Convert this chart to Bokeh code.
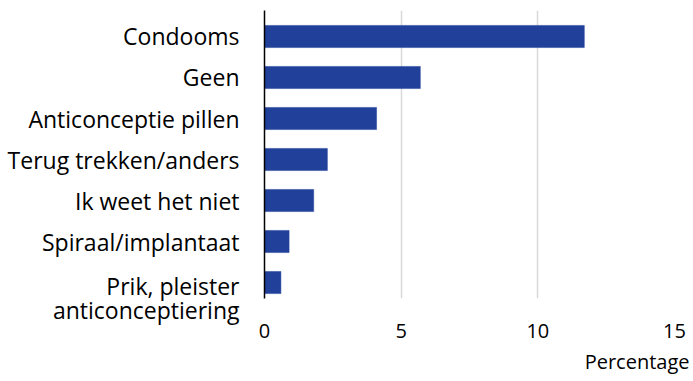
from bokeh.plotting import figure
from bokeh.models import Range1d, FixedTicker, Title, ColumnDataSource
from bokeh.embed import file_html
from bokeh.resources import INLINE

categories = ["Condooms", "Geen", "Anticonceptie pillen", "Terug trekken/anders",
              "Ik weet het niet", "Spiraal/implantaat", "Prik, pleister\nanticonceptiering"]
values = [11.7, 5.7, 4.1, 2.3, 1.8, 0.9, 0.6]
x_ticks = [0, 5, 10, 15]
x_label = "Percentage"

FONT = "Open Sans"
BAR = "#21409A"

idx = list(range(len(categories)))
src = ColumnDataSource(dict(y=idx, v=values, name=categories))

p = figure(width=693, height=381, output_backend="svg", toolbar_location=None,
           x_range=Range1d(0, 15), y_range=Range1d(6.39, -0.634),
           min_border_left=264, min_border_right=19, min_border_top=10, min_border_bottom=83)
p.outline_line_color = None

p.hbar(y="y", right="v", left=0, height=0.54, source=src, fill_color=BAR, line_color=BAR, line_width=0.5)

# x axis
p.xaxis.ticker = FixedTicker(ticks=x_ticks)
p.xaxis.axis_line_color = None
p.xaxis.major_tick_line_color = None
p.xaxis.minor_tick_line_color = None
p.xaxis.major_label_text_font = FONT
p.xaxis.major_label_text_font_size = "20px"
p.xaxis.major_label_text_color = "#000000"
p.xaxis.major_label_standoff = 19

# y axis: multi-line labels are nudged down so their first line sits by the bar
tick_pos = [i + (0.38 if "\n" in c else 0.0) for i, c in zip(idx, categories)]
p.yaxis.ticker = FixedTicker(ticks=tick_pos)
p.yaxis.major_label_overrides = {t: c for t, c in zip(tick_pos, categories)}
p.yaxis.axis_line_color = "#000000"
p.yaxis.axis_line_width = 1.5
p.yaxis.major_tick_line_color = None
p.yaxis.minor_tick_line_color = None
p.yaxis.major_label_text_font = FONT
p.yaxis.major_label_text_font_size = "23px"
p.yaxis.major_label_text_color = "#000000"
p.yaxis.major_label_text_line_height = 0.75
p.yaxis.major_label_standoff = 19

# grid
p.xgrid.ticker = FixedTicker(ticks=x_ticks)
p.xgrid.grid_line_color = "#D9D9D9"
p.xgrid.grid_line_width = 1.5
p.ygrid.grid_line_color = None

t = Title(text=x_label, align="right", offset=-15, text_font=FONT, text_font_size="20px",
          text_font_style="normal", text_color="#000000", standoff=10)
p.add_layout(t, "below")

open("out.html", "w").write(file_html(p, INLINE))
